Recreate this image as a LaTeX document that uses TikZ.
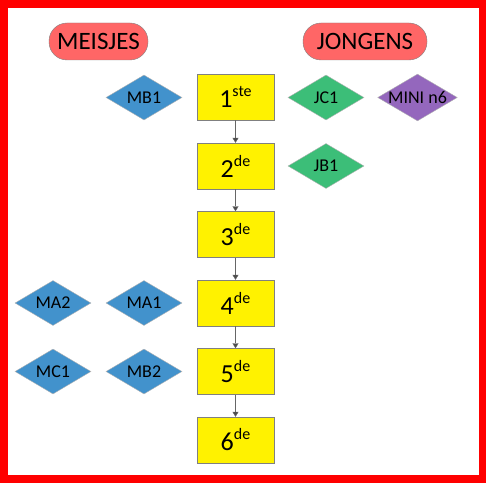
\documentclass[tikz,border=0pt]{standalone}
\usepackage{fontspec}
\setmainfont{Carlito}
\usetikzlibrary{shapes.geometric,arrows.meta}

\definecolor{kopred}{RGB}{255,102,102}
\definecolor{mblue}{RGB}{66,146,204}
\definecolor{jgreen}{RGB}{60,190,120}
\definecolor{minipurple}{RGB}{148,103,189}

\newcommand{\graad}[2]{#1\raisebox{11pt}{\fontsize{16}{16}\selectfont #2}}

\begin{document}
\begin{tikzpicture}[x=1pt,y=-1pt,
    grade/.style={draw=gray,fill=yellow,minimum width=77pt,minimum height=46pt,inner sep=0pt,font=\fontsize{26}{28}\selectfont},
    ruit/.style={diamond,draw=gray!60,aspect=1.7,minimum width=76pt,minimum height=45pt,inner sep=0pt,font=\fontsize{18}{20}\selectfont},
    kop/.style={draw=gray,fill=kopred,rounded corners=18pt,minimum height=37pt,inner sep=0pt,font=\fontsize{25}{27}\selectfont}]
\useasboundingbox (0,0) rectangle (486,484);
\draw[red,line width=7.5pt] (3.75,4) rectangle (482.5,479);

\node[kop,minimum width=99pt] (meisjes) at (98.5,41.5) {MEISJES};
\node[kop,minimum width=124pt] (jongens) at (365,41.5) {JONGENS};

% leerjaren
\node[grade] (g1) at (235.5,97) {\graad{1}{ste}};
\node[grade] (g2) at (235.5,166) {\graad{2}{de}};
\node[grade] (g3) at (235.5,234.5) {\graad{3}{de}};
\node[grade] (g4) at (235.5,303) {\graad{4}{de}};
\node[grade] (g5) at (235.5,371.5) {\graad{5}{de}};
\node[grade] (g6) at (235.5,440) {\graad{6}{de}};
\foreach \a/\b in {1/2,2/3,3/4,4/5,5/6}
    \draw[gray!80!black,-{Triangle[length=5pt,width=6pt,fill=gray!60!black]}] (g\a) -- (g\b);

% meisjes
\node[ruit,fill=mblue] (mb1) at (144,97.5) {MB1};
\node[ruit,fill=mblue] (ma1) at (144,303) {MA1};
\node[ruit,fill=mblue] (ma2) at (53,303) {MA2};
\node[ruit,fill=mblue] (mb2) at (144,371.5) {MB2};
\node[ruit,fill=mblue] (mc1) at (53,371.5) {MC1};

% jongens
\node[ruit,fill=jgreen] (jc1) at (326,97.5) {JC1};
\node[ruit,fill=jgreen] (jb1) at (326,166) {JB1};
\node[ruit,fill=minipurple] (mini) at (417.5,97.5) {MINI n6};
\end{tikzpicture}
\end{document}
